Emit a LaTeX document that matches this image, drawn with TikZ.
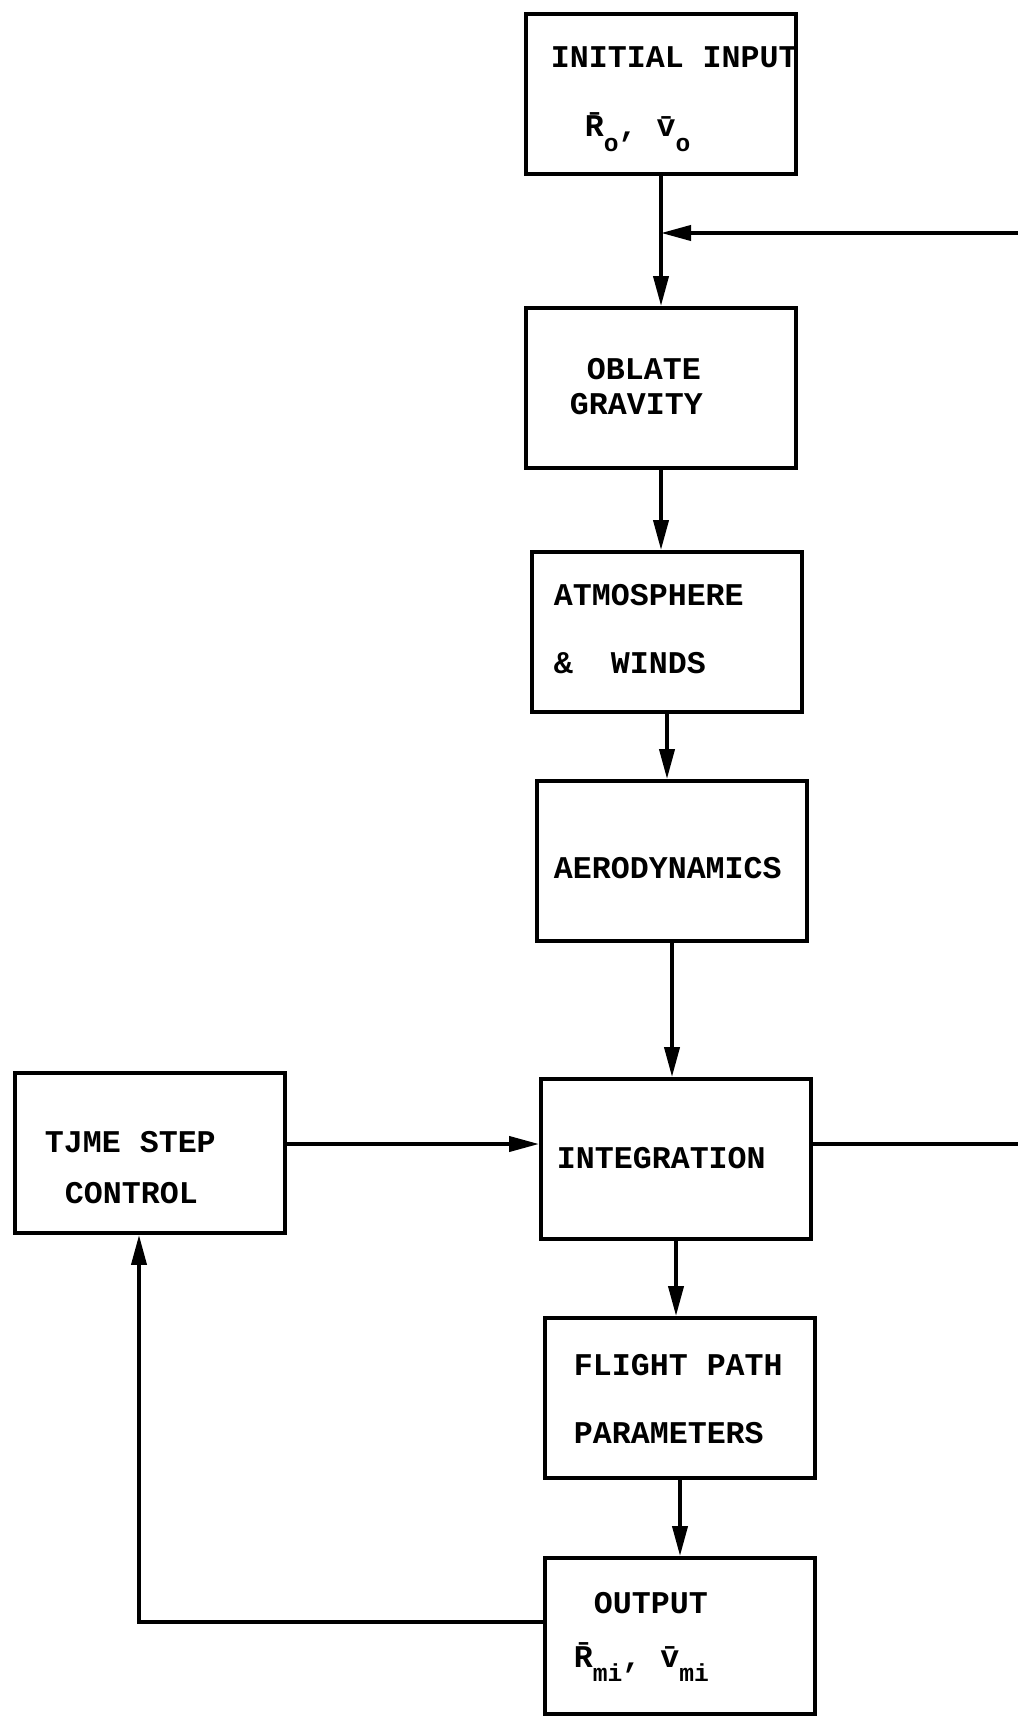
\documentclass[tikz,border=0pt]{standalone}
\usepackage{fontspec}
\setmainfont{Liberation Mono}
\usetikzlibrary{positioning,calc,arrows.meta}
\newcommand{\lowidx}[1]{\raisebox{-0.45em}{\fontsize{14}{14}\selectfont #1}}

\begin{document}
\begin{tikzpicture}[x=0.02cm, y=-0.02cm, line width=2.2pt,
    box/.style={draw, minimum width=5.4cm, minimum height=3.2cm, inner sep=0pt},
    lbl/.style={anchor=base west, inner sep=0pt, font=\bfseries\fontsize{18}{20}\selectfont},
    flow/.style={-{Triangle[length=6mm,width=3mm]}}]
    \useasboundingbox (0,0) rectangle (1017,1719);

    % blocks
    \node[box] (init) at (661,94) {};
    \node[box] (oblate) at (661,388) {};
    \node[box] (atmos) at (667,632) {};
    \node[box] (aero) at (672,861) {};
    \node[box] (integ) at (676,1159) {};
    \node[box] (tstep) at (150,1153) {};
    \node[box] (flight) at (680,1398) {};
    \node[box, minimum height=3.12cm] (output) at (680,1636) {};

    % texts
    \node[lbl] (initA) at (549,68) {INITIAL INPUT};
    \node[lbl] (initB) at (583,137) {\={R}\lowidx{o}, \={v}\lowidx{o}};
    \node[lbl] (oblateA) at (585,380) {OBLATE};
    \node[lbl] (oblateB) at (568,415) {GRAVITY};
    \node[lbl] (atmosA) at (552,605) {ATMOSPHERE};
    \node[lbl] (atmosB) at (552,673) {\&~~WINDS};
    \node[lbl] (aeroA) at (552,878) {AERODYNAMICS};
    \node[lbl] (integA) at (555,1168) {INTEGRATION};
    \node[lbl] (tstepA) at (43,1152) {TJME STEP};
    \node[lbl] (tstepB) at (63,1203) {CONTROL};
    \node[lbl] (flightA) at (572,1375) {FLIGHT PATH};
    \node[lbl] (flightB) at (572,1443) {PARAMETERS};
    \node[lbl] (outputA) at (592,1613) {OUTPUT};
    \node[lbl] (outputB) at (572,1667) {\={R}\lowidx{mi}, \={v}\lowidx{mi}};

    % connectors
    \coordinate (fbTop) at (1030,233);
    \coordinate (loopY) at (0,1144);
    \coordinate (backX) at (139,1622);
    \draw[flow] (init.south) -- (init.south |- oblate.north);
    \draw[flow] (oblate.south) -- (oblate.south |- atmos.north);
    \draw[flow] (atmos.south) -- (atmos.south |- aero.north);
    \draw[flow] (aero.south) -- (aero.south |- integ.north);
    \draw[flow] (integ.south) -- (integ.south |- flight.north);
    \draw[flow] (flight.south) -- (flight.south |- output.north);
    \draw[flow] (tstep.east |- loopY) -- (integ.west |- loopY);
    \draw[flow] (integ.east |- loopY) -| (fbTop) -- (init.south |- fbTop);
    \draw[flow] (output.west |- backX) -| (tstep.south -| backX);
\end{tikzpicture}
\end{document}
